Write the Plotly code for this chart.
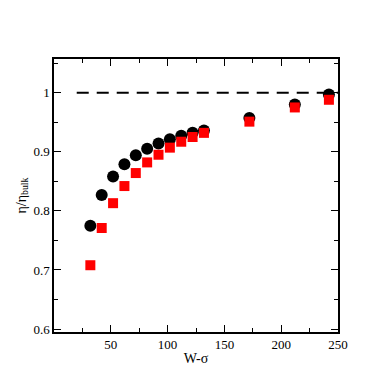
import plotly.graph_objects as go

# larghezza del canale W-sigma
w_sigma = [32, 42, 52, 62, 72, 82, 92, 102, 112, 122, 132, 172, 212, 242]

# viscosita' relativa, due serie
eta_black = [0.775, 0.827, 0.858, 0.879, 0.894, 0.905, 0.914, 0.921, 0.927, 0.932,
             0.936, 0.957, 0.980, 0.997]
eta_red = [0.708, 0.771, 0.813, 0.842, 0.864, 0.882, 0.895, 0.907, 0.917, 0.925,
           0.932, 0.951, 0.975, 0.988]

bulk_x = [20, 250]
bulk_y = [1, 1]

y_ticks = [0.6, 0.7, 0.8, 0.9, 1.0]
y_labels = ["0.6", "0.7", "0.8", "0.9", "1"]

font_serif = "Liberation Serif, Times New Roman, serif"

fig = go.Figure()

# linea tratteggiata a eta/eta_bulk = 1
fig.add_trace(go.Scatter(
    x=bulk_x, y=bulk_y, mode="lines",
    line=dict(color="black", width=2, dash="12px,8px"),
    showlegend=False, hoverinfo="skip"
))

fig.add_trace(go.Scatter(
    x=w_sigma, y=eta_black, mode="markers",
    marker=dict(symbol="circle", size=12, color="black"),
    showlegend=False
))

fig.add_trace(go.Scatter(
    x=w_sigma, y=eta_red, mode="markers",
    marker=dict(symbol="square", size=10, color="red"),
    showlegend=False
))

axis_common = dict(
    showgrid=False, zeroline=False,
    showline=True, linecolor="black", linewidth=1.5,
    mirror="ticks", ticks="inside", ticklen=7, tickcolor="black",
    tickfont=dict(family=font_serif, size=13, color="black"),
)

# la pagina ha 8px di margine nel body: dimensioni ridotte di conseguenza
fig.update_layout(
    width=373, height=383,
    margin=dict(l=36, r=43, t=51, b=59),
    plot_bgcolor="white", paper_bgcolor="white",
    xaxis=dict(
        range=[0, 250], tickvals=[50, 100, 150, 200, 250],
        minor=dict(ticks="inside", ticklen=4, dtick=25, tick0=0, tickcolor="black"),
        title=dict(text="W-σ", font=dict(family=font_serif, size=14, color="black"), standoff=2),
        **axis_common
    ),
    yaxis=dict(
        range=[0.595, 1.057], tickvals=y_ticks, ticktext=y_labels,
        minor=dict(ticks="inside", ticklen=4, dtick=0.05, tick0=0.6, tickcolor="black"),
        title=dict(text="η/η<sub>bulk</sub>", font=dict(family=font_serif, size=14, color="black"), standoff=4),
        **axis_common
    ),
)

fig.write_html("out.html")
